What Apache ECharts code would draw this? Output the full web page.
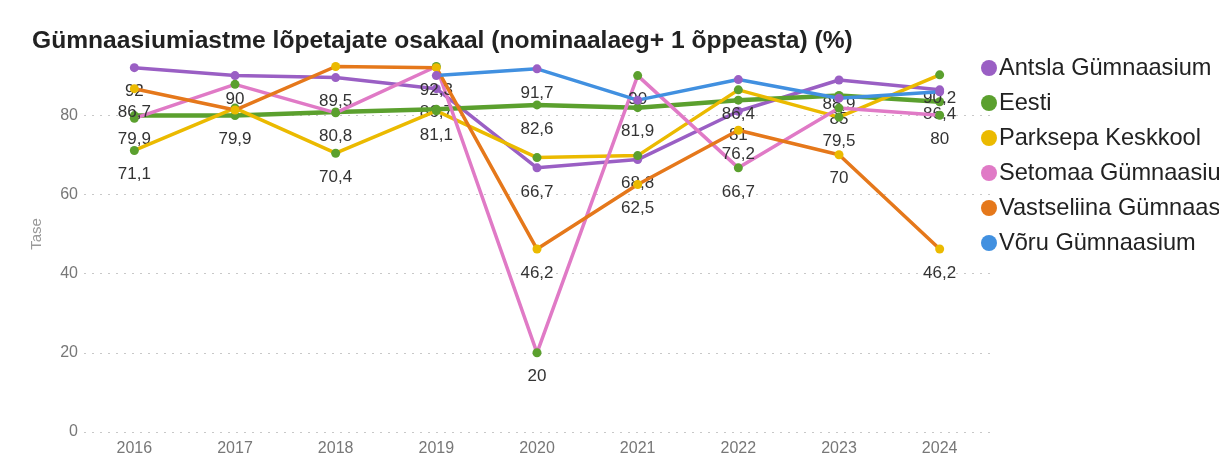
<!DOCTYPE html>
<html>
<head>
<meta charset="utf-8">
<script src="https://cdn.jsdelivr.net/npm/echarts@6/dist/echarts.min.js"></script>
<style>
html,body{margin:0;padding:0;background:#fff;}
#chart{width:1219px;height:466px;}
</style>
</head>
<body>
<div id="chart"></div>
<script>
const years = ['2016','2017','2018','2019','2020','2021','2022','2023','2024'];
const seriesNames = ['Antsla Gümnaasium','Eesti','Parksepa Keskkool','Setomaa Gümnaasium','Vastseliina Gümnaasium','Võru Gümnaasium'];
const antsla      = [92, 90, 89.5, 86.7, 66.7, 68.8, 81, 88.9, 86.4];
const eesti       = [79.9, 79.9, 80.8, 81.5, 82.6, 81.9, 83.8, 85, 83.4];
const parksepa    = [71.1, 81.8, 70.4, 81.1, 69.3, 69.8, 86.4, 79.5, 90.2];
const setomaa     = [79.2, 87.8, 80.6, 92.3, 20, 90, 66.7, 81.8, 80];
const vastseliina = [86.7, 81.3, 92.3, 92, 46.2, 62.5, 76.2, 70, 46.2];
const voru        = [null, null, null, 90, 91.7, 83.8, 89, 84.3, 85.9];
const yTicks = [0, 20, 40, 60, 80];

// which data labels the reference leaves out (overlap hidden)
const hiddenLabels = {
  'Antsla Gümnaasium': [],
  'Eesti': ['2019','2022','2024'],
  'Parksepa Keskkool': ['2017','2020','2021'],
  'Setomaa Gümnaasium': ['2016','2017','2018','2023'],
  'Vastseliina Gümnaasium': ['2017','2018','2019'],
  'Võru Gümnaasium': ['2019','2021','2022','2023','2024']
};

const allValues = [antsla, eesti, parksepa, setomaa, vastseliina, voru];
const lineColors = ['#9a5fc4','#5ba02e','#ebba00','#e07ac6','#e5781b','#4190e0'];
const markerColors = ['#9a5fc4','#5ba02e','#5ba02e','#5ba02e','#ebba00','#9a5fc4'];
const lineWidths = [3.5, 4.5, 3.5, 3.5, 3.5, 3.5];

const chart = echarts.init(document.getElementById('chart'));
const fontFam = '"Liberation Sans", Arial, Helvetica, sans-serif';

const series = seriesNames.map((name, i) => ({
  name: name,
  type: 'line',
  data: allValues[i],
  symbol: 'circle',
  symbolSize: 9,
  showSymbol: true,
  connectNulls: false,
  z: 2 + i,
  lineStyle: { color: lineColors[i], width: lineWidths[i] },
  itemStyle: { color: markerColors[i] },
  label: {
    show: true,
    position: 'bottom',
    distance: 11,
    fontSize: 17,
    fontFamily: fontFam,
    color: '#333',
    formatter: function (p) {
      if (p.value == null) return '';
      if (hiddenLabels[name].indexOf(p.name) >= 0) return '';
      return String(p.value).replace('.', ',');
    }
  },
  emphasis: { disabled: true }
}));

chart.setOption({
  animation: false,
  backgroundColor: '#fff',
  title: {
    text: 'Gümnaasiumiastme lõpetajate osakaal (nominaalaeg+ 1 õppeasta) (%)',
    left: 27,
    top: 24,
    textStyle: { fontFamily: fontFam, fontWeight: 'bold', fontSize: 24.6, color: '#222' }
  },
  legend: {
    orient: 'vertical',
    left: 976,
    top: 50,
    icon: 'circle',
    itemWidth: 16,
    itemHeight: 16,
    itemGap: 9,
    textStyle: { fontFamily: fontFam, fontSize: 23.6, color: '#222', lineHeight: 26, padding: [0,0,0,-3] },
    data: seriesNames.map((n, i) => ({ name: n, itemStyle: { color: lineColors[i] } }))
  },
  grid: { left: 84, right: 229, top: 36, bottom: 34, containLabel: false },
  xAxis: {
    type: 'category',
    data: years,
    boundaryGap: true,
    axisLine: { show: false },
    axisTick: { show: false },
    axisLabel: { fontFamily: fontFam, fontSize: 16, color: '#777', margin: 9 }
  },
  yAxis: {
    type: 'value',
    min: 0,
    max: 100,
    interval: 20,
    name: 'Tase',
    nameLocation: 'middle',
    nameGap: 40,
    nameRotate: 90,
    nameTextStyle: { fontFamily: fontFam, fontSize: 15, color: '#999' },
    axisLine: { show: false },
    axisTick: { show: false },
    axisLabel: {
      fontFamily: fontFam, fontSize: 16, color: '#777', margin: 6,
      showMaxLabel: false,
      formatter: function (v) { return yTicks.indexOf(v) >= 0 ? String(v) : ''; }
    },
    splitLine: {
      show: true,
      lineStyle: { type: [2, 6], width: 1.2, color: ['#c8c8c8','#c8c8c8','#c8c8c8','#c8c8c8','#c8c8c8','rgba(0,0,0,0)'] }
    }
  },
  series: series
});
</script>
</body>
</html>
